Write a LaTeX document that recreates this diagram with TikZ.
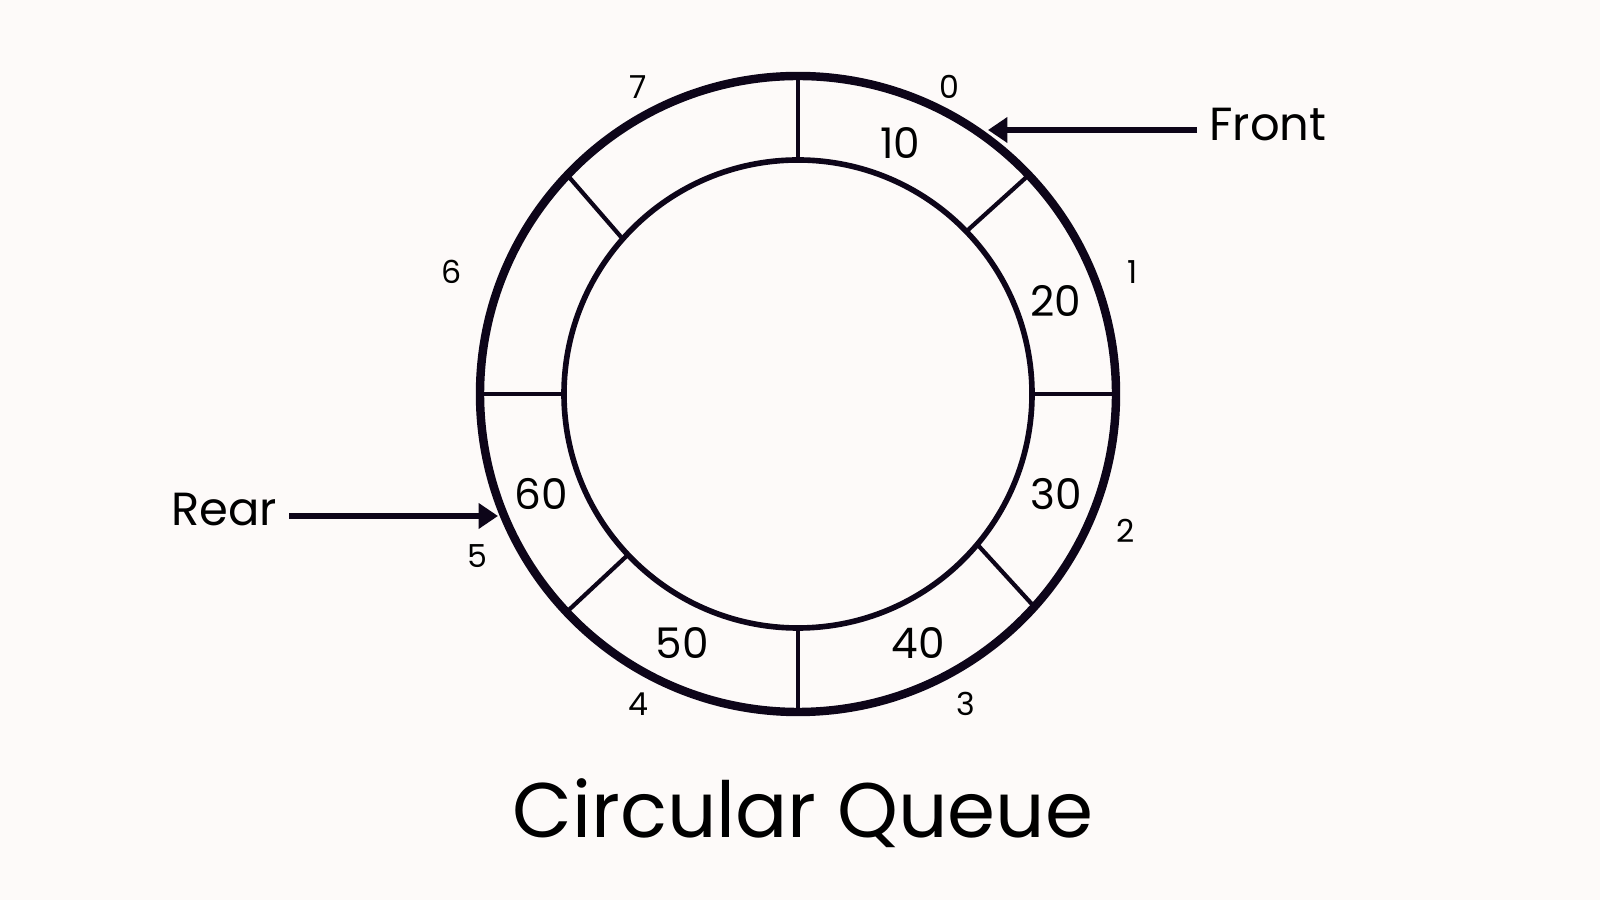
\documentclass[tikz,border=0pt]{standalone}
\usepackage{fontspec}
\setmainfont{Poppins}
\usetikzlibrary{arrows.meta,calc}
\definecolor{ringcol}{HTML}{0D0519}
\definecolor{paper}{HTML}{FDFAF9}
\tikzset{
idx/.style={font=\fontsize{9}{10}\selectfont},
val/.style={font=\fontsize{12}{14}\selectfont},
tag/.style={font=\fontsize{13.2}{16}\selectfont},
qarrow/.style={line width=1.8pt,-{Triangle[length=5.5pt,width=7pt]}}}

\begin{document}
\begin{tikzpicture}[x=0.01cm,y=0.01cm]
\fill[paper] (0,0) rectangle (1600,900);
\useasboundingbox (0,0) rectangle (1600,900);
\coordinate (c) at (798,506);
% ring
\draw[ringcol,line width=2.4pt] (c) circle[radius=318];
\draw[ringcol,line width=1.6pt] (c) circle[radius=234];
\foreach \o/\i in {0/0,43.5/44,90/90,136.5/138.5,180/180,223.3/223.4,270/270,318/320}
  \draw[ringcol,line width=1.2pt] ($(c)+(\i:234)$) -- ($(c)+(\o:318)$);
% indices
\node[idx] (i0) at (949,813) {0};
\node[idx] (i1) at (1133,628) {1};
\node[idx] (i2) at (1126,369) {2};
\node[idx] (i3) at (966,196) {3};
\node[idx] (i4) at (638,196) {4};
\node[idx] (i5) at (477,344) {5};
\node[idx] (i6) at (452,628) {6};
\node[idx] (i7) at (638,813) {7};
% values
\node[val] (v10) at (900,757) {10};
\node[val] (v20) at (1056,599) {20};
\node[val] (v30) at (1056,406) {30};
\node[val] (v40) at (918,257) {40};
\node[val] (v50) at (682,257) {50};
\node[val] (v60) at (541,406) {60};
% pointers
\node[tag] (front) at (1268,775) {Front};
\coordinate (fronttip) at (988,770);
\draw[qarrow,ringcol] (front.west |- fronttip) -- (fronttip);
\node[tag] (rear) at (224,390) {Rear};
\coordinate (reartip) at (498,384);
\draw[qarrow,ringcol] (rear.east |- reartip) -- (reartip);
% title
\node[font=\fontsize{22}{26}\selectfont] (title) at (803,87) {Circular Queue};
\end{tikzpicture}
\end{document}
